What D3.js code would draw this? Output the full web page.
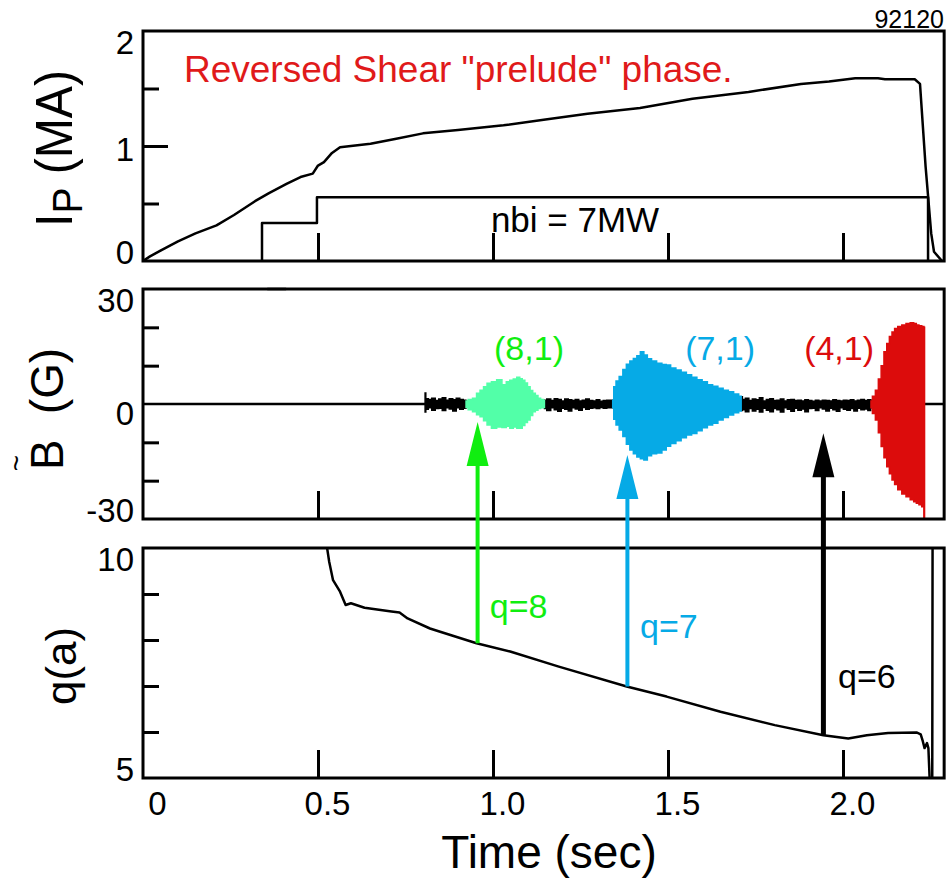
<!DOCTYPE html>
<meta charset="utf-8">
<svg width="946" height="878"></svg>
<style>
	body { margin: 0; background: #fff; }
	svg { display: block; font-family: "Liberation Sans", Arial, sans-serif; }
	.frame { fill: none; stroke: #000; stroke-width: 3; }
	.trace { fill: none; stroke: #000; stroke-width: 2.5; stroke-linejoin: round; }
	.tick line { stroke: #000; stroke-width: 3; }
	.domain { display: none; }
</style>
<script src="https://cdn.jsdelivr.net/npm/d3@7"></script>
<script>

// plasma current, MA
var ipTime = [0, 0.02, 0.05, 0.10, 0.15, 0.21, 0.26, 0.32, 0.36, 0.41, 0.45, 0.485, 0.50, 0.517, 0.54, 0.563, 0.594, 0.65, 0.72, 0.80, 0.90, 1.03, 1.15, 1.27, 1.42, 1.57, 1.73, 1.88, 1.96, 2.035, 2.10, 2.12, 2.205, 2.22, 2.236, 2.252, 2.26, 2.283];
var ipVal = [0, 0.04, 0.09, 0.17, 0.24, 0.31, 0.40, 0.52, 0.59, 0.67, 0.73, 0.76, 0.83, 0.86, 0.94, 0.99, 1.00, 1.02, 1.06, 1.11, 1.14, 1.18, 1.23, 1.28, 1.33, 1.41, 1.47, 1.54, 1.56, 1.59, 1.59, 1.58, 1.58, 1.54, 0.82, 0.24, 0.08, 0];

// beam power trace (drawn on the Ip scale)
var nbiTime = [0.34, 0.34, 0.497, 0.497, 2.243, 2.243];
var nbiVal = [0, 0.33, 0.33, 0.555, 0.555, 0];

// q at the edge
var qTime = [0.525, 0.532, 0.543, 0.563, 0.579, 0.594, 0.633, 0.71, 0.733, 0.756, 0.82, 0.849, 0.953, 1.049, 1.188, 1.382, 1.496, 1.65, 1.805, 1.944, 2.015, 2.068, 2.129, 2.21, 2.222, 2.228, 2.233, 2.24, 2.244, 2.248, 2.255, 2.256];
var qVal = [10.05, 9.7, 9.30, 9.05, 8.76, 8.80, 8.70, 8.62, 8.60, 8.47, 8.25, 8.18, 7.93, 7.75, 7.42, 6.99, 6.77, 6.44, 6.15, 5.93, 5.86, 5.93, 5.98, 5.99, 5.95, 5.80, 5.65, 5.76, 5.65, 4.9, 4.9, 10.5];

// B~ background noise, three pieces (upper / lower envelope, G)
var n1Time = [0.806, 0.810, 0.820, 0.830, 0.840, 0.850, 0.860, 0.870, 0.880, 0.890, 0.900, 0.910, 0.920, 0.925];
var n1Hi = [2.9, 1.4, 1.2, 1.5, 0.9, 1.3, 1.6, 1.0, 1.4, 1.1, 1.5, 1.2, 1.0, 0.8];
var n1Lo = [-2.1, -1.4, -1.0, -1.6, -1.2, -1.1, -1.7, -1.0, -1.3, -1.8, -1.0, -1.4, -1.1, -0.9];

var n2Time = [1.147, 1.16, 1.17, 1.18, 1.19, 1.20, 1.21, 1.22, 1.23, 1.24, 1.25, 1.26, 1.27, 1.28, 1.29, 1.30, 1.31, 1.32, 1.33, 1.342];
var n2Hi = [1.0, 1.3, 0.9, 1.4, 1.2, 0.8, 1.3, 1.1, 0.9, 1.2, 0.8, 1.0, 1.3, 0.9, 0.8, 1.1, 0.7, 0.9, 1.0, 1.0];
var n2Lo = [-1.2, -1.7, -1.0, -1.5, -1.9, -1.1, -1.4, -1.8, -1.0, -1.3, -1.6, -0.9, -1.4, -1.1, -1.0, -1.2, -0.9, -1.1, -1.0, -1.0];

var n3Time = [1.709, 1.716, 1.726, 1.736, 1.746, 1.756, 1.766, 1.776, 1.786, 1.796, 1.806, 1.816, 1.826, 1.836, 1.846, 1.856, 1.866, 1.876, 1.886, 1.896, 1.906, 1.916, 1.926, 1.936, 1.946, 1.956, 1.966, 1.976, 1.986, 1.996, 2.006, 2.016, 2.026, 2.036, 2.046, 2.056, 2.066, 2.076, 2.082];
var n3Hi = [1.9, 1.2, 1.5, 0.9, 1.3, 1.1, 1.6, 0.8, 1.2, 1.4, 0.9, 1.0, 1.3, 0.8, 1.1, 1.2, 0.9, 1.0, 0.8, 1.1, 0.9, 0.7, 1.0, 0.8, 1.0, 0.9, 0.8, 1.1, 0.9, 0.8, 1.0, 0.9, 1.1, 0.8, 1.0, 1.2, 0.9, 1.1, 1.0];
var n3Lo = [-1.7, -1.5, -2.0, -1.2, -1.8, -1.4, -2.1, -1.1, -1.6, -2.0, -1.2, -1.5, -2.1, -1.0, -1.4, -1.9, -1.1, -1.6, -1.3, -2.0, -1.2, -1.1, -1.7, -1.0, -1.3, -1.8, -1.1, -1.5, -1.9, -1.0, -1.4, -1.6, -1.2, -1.8, -1.1, -1.5, -1.3, -1.7, -1.0];

// (8,1) burst
var m8Time = [0.923, 0.935, 0.948, 0.958, 0.968, 0.978, 0.988, 1.003, 1.018, 1.033, 1.043, 1.053, 1.063, 1.073, 1.080, 1.087, 1.095, 1.102, 1.110, 1.117, 1.125, 1.132, 1.140, 1.147];
var m8Hi = [0.8, 1.2, 1.5, 2.8, 3.6, 4.5, 5.4, 5.8, 6.3, 5.0, 5.8, 6.2, 6.5, 7.0, 6.6, 6.2, 5.5, 4.5, 3.5, 2.8, 2.2, 1.5, 1.2, 0.9];
var m8Lo = [-0.9, -1.5, -2.0, -2.8, -3.3, -4.4, -5.5, -6.3, -6.0, -6.1, -5.8, -6.3, -6.0, -6.3, -6.3, -5.6, -4.8, -4.2, -3.0, -2.0, -1.6, -1.2, -1.0, -0.9];

// (7,1) burst
var m7Time = [1.342, 1.348, 1.355, 1.366, 1.376, 1.386, 1.396, 1.406, 1.416, 1.426, 1.436, 1.446, 1.46, 1.475, 1.49, 1.50, 1.515, 1.53, 1.545, 1.56, 1.575, 1.59, 1.605, 1.62, 1.635, 1.65, 1.665, 1.68, 1.695, 1.709];
var m7Hi = [1.0, 4.5, 6.0, 7.2, 9.0, 10.4, 11.2, 11.9, 12.6, 13.6, 12.8, 11.8, 11.2, 10.6, 10.3, 10.2, 9.4, 8.9, 8.3, 7.6, 7.0, 6.3, 5.8, 5.0, 4.6, 4.1, 3.6, 3.2, 2.6, 2.0];
var m7Lo = [-1.0, -4.0, -5.5, -6.8, -8.5, -10.5, -12.0, -13.0, -13.8, -14.3, -14.6, -13.5, -13.0, -12.8, -12.0, -11.0, -10.3, -9.6, -8.8, -8.1, -7.7, -7.0, -6.2, -5.5, -5.0, -4.2, -3.5, -2.9, -2.3, -1.8];

// (4,1) burst
var m4Time = [2.080, 2.088, 2.097, 2.105, 2.113, 2.121, 2.129, 2.136, 2.144, 2.151, 2.162, 2.174, 2.186, 2.198, 2.206, 2.213, 2.221, 2.229, 2.233];
var m4Hi = [0.8, 2.0, 3.6, 6.5, 10.0, 13.6, 15.8, 17.6, 18.8, 19.7, 20.2, 20.6, 21.0, 21.2, 21.0, 20.6, 20.4, 20.2, 20.0];
var m4Lo = [-1.0, -2.5, -4.2, -7.5, -11.1, -14.0, -16.4, -18.2, -19.8, -21.0, -22.4, -23.5, -24.2, -25.0, -25.5, -25.9, -26.3, -26.8, -30];

// short clipped piece at the top of the B~ panel
var clipTime = [0.355, 0.409];
var clipVal = [30, 30];

// mode labels
var modeLabel = ["(8,1)", "(7,1)", "(4,1)"];
var modeTime = [1.003, 1.549, 1.889];
var modeB = [11.5, 11.5, 11.5];

// arrows: time, q at the foot, B~ at the tip
var arrowTime = [0.956, 1.384, 1.944];
var arrowQ = [7.93, 6.99, 5.93];
var arrowTipB = [-4.7, -13.3, -7.6];
var arrowLabel = ["q=8", "q=7", "q=6"];
var arrowLabelTime = [0.991, 1.42, 1.986];
var arrowLabelQ = [8.48, 8.04, 6.96];

// axis ticks
var timeTicks = [0.5, 1.0, 1.5, 2.0];
var timeTickLabels = ["0", "0.5", "1.0", "1.5", "2.0"];
var ipLabels = [0, 1, 2];
var ipMinor = [0.5, 1.5];
var bLabels = [-30, 0, 30];
var bMinor = [-20, -10, 10, 20];
var qLabels = [5, 10];
var qMinor = [6, 7, 8, 9];

var colGreen = "#10ee10",
	colMint = "#52ffa8",
	colBlue = "#06aae6",
	colRed = "#dc0c0c";

var svg = d3.select("svg");

var tEnd = 2.289;
var x = d3.scaleLinear().domain([0, 2]).range([143, 843]);
var yI = d3.scaleLinear().domain([0, 2]).range([261, 31]);
var yB = d3.scaleLinear().domain([-30, 30]).range([519, 289]);
var yQ = d3.scaleLinear().domain([5, 10]).range([778, 548]);

svg.append("rect").attr("width", 946).attr("height", 878).attr("fill", "#fff");

var defs = svg.append("defs");

function panel(y, id, labels, minor, majorTicks, midDy) {
	var y0 = y.range()[0], y1 = y.range()[1];
	defs.append("clipPath").attr("id", id)
	.append("rect")
	.attr("x", x(0))
	.attr("y", y1)
	.attr("width", x(tEnd) - x(0))
	.attr("height", y0 - y1);

	var g = svg.append("g");

	g.append("g")
	.attr("transform", "translate(0," + y0 + ")")
	.call(d3.axisTop(x).tickValues(timeTicks).tickSize(28).tickFormat(""));

	g.append("g")
	.attr("transform", "translate(" + x(0) + ",0)")
	.call(d3.axisRight(y).tickValues(minor).tickSize(16).tickFormat(""));

	if (majorTicks.length) {
		g.append("g")
		.attr("transform", "translate(" + x(0) + ",0)")
		.call(d3.axisRight(y).tickValues(majorTicks).tickSize(25).tickFormat(""));
	}

	var lab = g.append("g")
		.attr("transform", "translate(" + x(0) + ",0)")
		.call(d3.axisLeft(y).tickValues(labels).tickSize(0).tickPadding(9)
			.tickFormat(function (d) { return String(d); }));
	lab.selectAll("text")
	.attr("font-size", 33)
	.attr("font-family", "Liberation Sans, Arial, sans-serif")
	.attr("fill", "#000")
	.attr("dy", function (d) {
		if (d === y.domain()[1]) return "0.68em";
		if (d === y.domain()[0]) return "0.08em";
		return midDy;
	});
	return g;
}

var gI = panel(yI, "clipI", ipLabels, ipMinor, [1], "0.45em");
var gB = panel(yB, "clipB", bLabels, bMinor, [], "0.63em");
var gQ = panel(yQ, "clipQ", qLabels, qMinor, [], "0.5em");

// ---- top panel: Ip and nbi
var lineI = d3.line()
	.x(function (d, i) { return x(ipTime[i]); })
	.y(function (d, i) { return yI(ipVal[i]); });
gI.append("path")
.attr("class", "trace")
.attr("clip-path", "url(#clipI)")
.attr("d", lineI(ipVal));

var lineNbi = d3.line()
	.x(function (d, i) { return x(nbiTime[i]); })
	.y(function (d, i) { return yI(nbiVal[i]); });
gI.append("path")
.attr("class", "trace")
.attr("d", lineNbi(nbiVal));

gI.append("text")
.attr("x", x(0.994))
.attr("y", yI(0.252))
.attr("font-size", 35)
.text("nbi = 7MW");

gI.append("text")
.attr("x", x(0.117))
.attr("y", yI(1.557))
.attr("font-size", 37)
.attr("fill", "#e01a1a")
.text("Reversed Shear \"prelude\" phase.");

// ---- middle panel: B~
gB.append("line")
.attr("x1", x(0)).attr("x2", x(tEnd))
.attr("y1", yB(0)).attr("y2", yB(0))
.attr("stroke", "#000").attr("stroke-width", 2.5);

function band(tArr, hi, lo, color) {
	var area = d3.area()
		.curve(d3.curveStep)
		.x(function (d, i) { return x(tArr[i]); })
		.y0(function (d, i) { return yB(lo[i]); })
		.y1(function (d, i) { return yB(hi[i]); });
	gB.append("path")
	.attr("clip-path", "url(#clipB)")
	.attr("fill", color)
	.attr("stroke", color)
	.attr("stroke-width", 1.5)
	.attr("d", area(tArr));
}

band(n1Time, n1Hi, n1Lo, "#000");
band(n2Time, n2Hi, n2Lo, "#000");
band(n3Time, n3Hi, n3Lo, "#000");
band(m8Time, m8Hi, m8Lo, colMint);
band(m7Time, m7Hi, m7Lo, colBlue);
band(m4Time, m4Hi, m4Lo, colRed);

var lineClip = d3.line()
	.x(function (d, i) { return x(clipTime[i]); })
	.y(function (d, i) { return yB(clipVal[i]); });
gB.append("path")
.attr("class", "trace")
.attr("stroke-width", 4)
.attr("d", lineClip(clipVal));

var modeCol = [colGreen, colBlue, colRed];
gB.selectAll(".mode")
.data(modeLabel)
.enter().append("text")
.attr("class", "mode")
.attr("x", function (d, i) { return x(modeTime[i]); })
.attr("y", function (d, i) { return yB(modeB[i]); })
.attr("font-size", 34)
.attr("fill", function (d, i) { return modeCol[i]; })
.text(function (d) { return d; });

// ---- bottom panel: q(a)
var lineQ = d3.line()
	.x(function (d, i) { return x(qTime[i]); })
	.y(function (d, i) { return yQ(qVal[i]); });
gQ.append("path")
.attr("class", "trace")
.attr("clip-path", "url(#clipQ)")
.attr("d", lineQ(qVal));

// frames
[yI, yB, yQ].forEach(function (y) {
	svg.append("rect")
	.attr("class", "frame")
	.attr("x", x(0))
	.attr("y", y.range()[1])
	.attr("width", x(tEnd) - x(0))
	.attr("height", y.range()[0] - y.range()[1]);
});

// arrows from q(a) up into the B~ panel
var arrowCol = [colGreen, colBlue, "#000"];
var arrowW = [4, 4, 5];
var headLen = 44, headHalf = 11;
arrowTime.forEach(function (t, i) {
	var ax = x(t), tip = yB(arrowTipB[i]);
	svg.append("line")
	.attr("x1", ax).attr("x2", ax)
	.attr("y1", yQ(arrowQ[i]))
	.attr("y2", tip + headLen - 2)
	.attr("stroke", arrowCol[i])
	.attr("stroke-width", arrowW[i]);
	svg.append("path")
	.attr("fill", arrowCol[i])
	.attr("d", "M" + ax + "," + tip + "L" + (ax + headHalf) + "," + (tip + headLen) + "L" + (ax - headHalf) + "," + (tip + headLen) + "Z");
	svg.append("text")
	.attr("x", x(arrowLabelTime[i]))
	.attr("y", yQ(arrowLabelQ[i]))
	.attr("font-size", 34)
	.attr("fill", arrowCol[i])
	.text(arrowLabel[i]);
});

// time axis labels
var xl = svg.append("g")
	.attr("transform", "translate(0," + yQ(5) + ")")
	.call(d3.axisBottom(x).tickValues([0].concat(timeTicks)).tickSize(0).tickPadding(14)
		.tickFormat(function (d, i) { return timeTickLabels[i]; }));
xl.selectAll("text")
.attr("font-size", 33)
.attr("font-family", "Liberation Sans, Arial, sans-serif")
.attr("fill", "#000")
.attr("dx", function (d) { return d === 0 ? 14 : 9; });

svg.append("text")
.attr("x", 549)
.attr("y", 868)
.attr("text-anchor", "middle")
.attr("font-size", 46)
.text("Time (sec)");

svg.append("text")
.attr("x", 944)
.attr("y", 28)
.attr("text-anchor", "end")
.attr("font-size", 25)
.text("92120");

// y axis titles
var tI = svg.append("text")
	.attr("transform", "translate(72,227) rotate(-90)")
	.attr("font-size", 52)
	.attr("textLength", 157)
	.attr("lengthAdjust", "spacingAndGlyphs")
	.style("white-space", "pre");
tI.append("tspan").text("I");
tI.append("tspan").attr("font-size", 42).attr("dy", 10).text("P");
tI.append("tspan").attr("dy", -10).text(" (MA)");

svg.append("text")
.attr("transform", "translate(63,470) rotate(-90)")
.attr("font-size", 46)
.attr("textLength", 122)
.attr("lengthAdjust", "spacingAndGlyphs")
.style("white-space", "pre")
.text("B  (G)");

svg.append("text")
.attr("transform", "translate(26,463) rotate(-90)")
.attr("font-size", 28)
.attr("text-anchor", "middle")
.text("~");

svg.append("text")
.attr("transform", "translate(76,705) rotate(-90)")
.attr("font-size", 42)
.attr("textLength", 78)
.attr("lengthAdjust", "spacingAndGlyphs")
.text("q(a)");

</script>
